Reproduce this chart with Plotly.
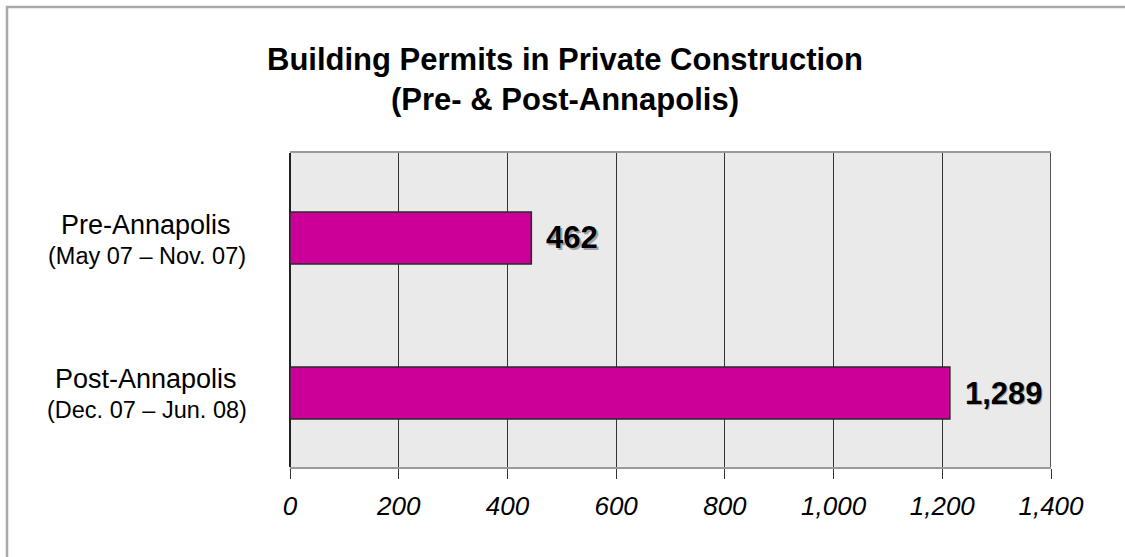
import plotly.graph_objects as go

categories = ["Pre-Annapolis", "Post-Annapolis"]
periods = ["(May 07 – Nov. 07)", "(Dec. 07 – Jun. 08)"]
bar_values = [444, 1214]          # bar lengths as drawn in the picture
value_labels = ["462", "1,289"]   # value labels as printed
tick_values = [0, 200, 400, 600, 800, 1000, 1200, 1400]
tick_labels = ["0", "200", "400", "600", "800", "1,000", "1,200", "1,400"]

ypos = list(range(len(categories)))

W, H = 1125, 557
L, R, T, B = 290, 74, 153, 90
PH = H - T - B


def py(pix):
    """page pixel y -> paper coordinate of plot area"""
    return 1 - (pix - T) / PH


def px(pix):
    return (pix - L) / (W - L - R)


FONT = "Liberation Sans, Arial, sans-serif"

fig = go.Figure()
fig.add_trace(go.Bar(
    x=bar_values, y=ypos, orientation="h", width=0.335,
    marker=dict(color="#CC0099", line=dict(color="#2a2a2a", width=1.5)),
    hoverinfo="skip", showlegend=False,
))

annotations = []
for i, (v, lab) in enumerate(zip(bar_values, value_labels)):
    annotations.append(dict(x=v, y=i, xref="x", yref="y", text="<b>" + lab + "</b>", showarrow=False,
                            xanchor="left", yanchor="middle", xshift=14.5, yshift=-1.5,
                            font=dict(family=FONT, size=31, color="#a0a0a0")))
    annotations.append(dict(x=v, y=i, xref="x", yref="y", text="<b>" + lab + "</b>", showarrow=False,
                            xanchor="left", yanchor="middle", xshift=13, yshift=0,
                            font=dict(family=FONT, size=31, color="#000000")))

cat_y = [225, 379]
for i, (c, p) in enumerate(zip(categories, periods)):
    annotations.append(dict(x=px(146), y=py(cat_y[i]), xref="paper", yref="paper", text=c,
                            showarrow=False, xanchor="center", yanchor="middle",
                            font=dict(family=FONT, size=27, color="#000000")))
    annotations.append(dict(x=px(147), y=py(cat_y[i] + 31), xref="paper", yref="paper", text=p,
                            showarrow=False, xanchor="center", yanchor="middle",
                            font=dict(family=FONT, size=23.5, color="#000000")))

fig.update_layout(
    width=W, height=H,
    margin=dict(l=L, r=R, t=T, b=B),
    paper_bgcolor="#FFFFFF",
    plot_bgcolor="#EAEAEA",
    title=dict(text="<b>Building Permits in Private Construction<br>(Pre- & Post-Annapolis)</b>",
               x=565 / W, xanchor="center", y=1 - 70 / H, yanchor="middle",
               font=dict(family=FONT, size=31, color="#000000")),
    xaxis=dict(range=[0, 1400], tickvals=tick_values, ticktext=tick_labels,
               showgrid=True, gridcolor="#333333", gridwidth=1,
               zeroline=True, zerolinecolor="#222222", zerolinewidth=1.5,
               showline=True, linecolor="#9a9a9a", linewidth=2, mirror=True,
               ticks="outside", ticklen=10, tickcolor="#333333", tickwidth=1,
               ticklabelstandoff=5,
               tickfont=dict(family=FONT, size=26, color="#000000", style="italic"),
               fixedrange=True),
    yaxis=dict(range=[1.477, -0.548], showticklabels=False, showgrid=False, zeroline=False,
               showline=False, fixedrange=True),
    annotations=annotations,
    shapes=[
        dict(type="line", xref="x", yref="paper", x0=1400, x1=1400, y0=0, y1=1,
             line=dict(color="#222222", width=1.5)),
        dict(type="line", xref="paper", yref="paper", x0=px(7), x1=px(7),
             y0=py(6), y1=py(H + 10), line=dict(color="#a8a8a8", width=2.5)),
        dict(type="line", xref="paper", yref="paper", x0=px(6), x1=px(W + 10),
             y0=py(7), y1=py(7), line=dict(color="#a8a8a8", width=2.5)),
    ],
)

fig.write_html("out.html", config={"displayModeBar": False},
               post_script="document.body.style.margin='0';document.body.style.padding='0';"
                           "document.body.style.overflow='hidden';"
                           "document.documentElement.style.overflow='hidden';")
